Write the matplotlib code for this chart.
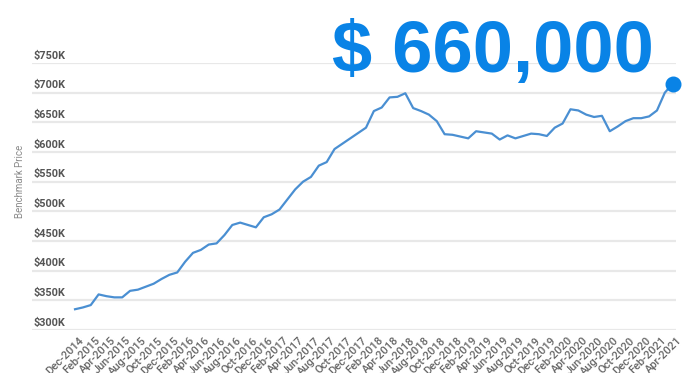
import matplotlib
matplotlib.use("Agg")
import matplotlib.pyplot as plt

# Monthly benchmark price (thousands of $), Dec-2014 .. Apr-2021
months = ["Dec-2014"] + [f"{m}-{y}" for y in range(2015, 2022)
                          for m in ["Jan", "Feb", "Mar", "Apr", "May", "Jun",
                                    "Jul", "Aug", "Sep", "Oct", "Nov", "Dec"]]
months = months[:77]
prices = [335, 338, 342, 360, 357, 355, 355, 366, 368, 373,
          378, 386, 393, 397, 415, 430, 435, 444, 446, 460,
          477, 481, 477, 473, 490, 495, 503, 520, 537, 550,
          558, 577, 583, 605, 614, 623, 632, 641, 669, 675,
          692, 693, 699, 674, 669, 663, 652, 630, 629, 626,
          623, 635, 633, 631, 621, 628, 623, 627, 631, 630,
          627, 641, 648, 672, 670, 663, 659, 661, 635, 643,
          652, 657, 657, 660, 670, 700, 715]
y_ticks = [300, 350, 400, 450, 500, 550, 600, 650, 700, 750]
y_tick_labels = [f"${v}K" for v in y_ticks]
headline = "$ 660,000"

blue = "#0983e6"
line_c = "#4a8fd2"

fig = plt.figure(figsize=(6.89, 3.73), dpi=100)
ax = fig.add_axes([32/689, 1 - 330/373, (676-32)/689, (330-63)/373])

x = list(range(len(prices)))
ax.plot(x, prices, color=line_c, lw=1.6, solid_joinstyle="round", zorder=3)
ax.plot([x[-1]], [prices[-1]], "o", color=blue, ms=10.5, clip_on=False, zorder=4)

ax.set_xlim(-5.47, 76.42)
ax.set_ylim(300, 750)
for v in y_ticks:
    ax.axhline(v, color="#e8e8e8", lw=1.6, zorder=1)
for s in ax.spines.values():
    s.set_visible(False)
ax.set_yticks([])
ax.set_xticks([])

for v, lab in zip(y_ticks, y_tick_labels):
    ax.text(0.002, v + 4, lab, transform=ax.get_yaxis_transform(),
            ha="left", va="bottom", fontsize=7.8, color="#555555",
            family="Roboto", fontweight="bold")

for i in range(0, len(months), 2):
    ax.text(i + 0.5, 291, months[i], rotation=45, rotation_mode="anchor",
            ha="right", va="top", fontsize=8, color="#666666",
            family="Roboto", fontweight="medium", clip_on=False)

fig.text(20/689, 1 - 181/373, "Benchmark Price", rotation=90, ha="center",
         va="center", fontsize=7, color="#8a8a8a", family="Roboto")

fig.text(332/689, 1 - 72/373, headline, ha="left", va="baseline",
         fontsize=52, fontweight="bold", color=blue, family="Liberation Sans")

fig.savefig("out.png", dpi=100)
